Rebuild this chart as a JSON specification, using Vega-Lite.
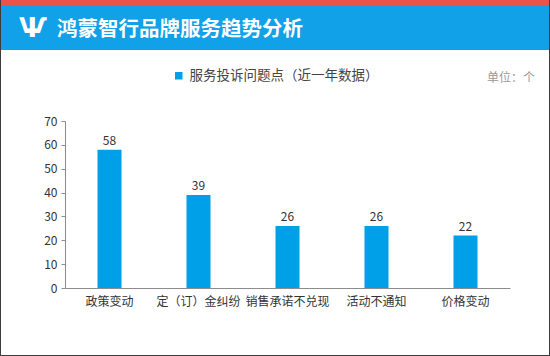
{
  "$schema": "https://vega.github.io/schema/vega-lite/v6.json",
  "background": "#3c3c3c",
  "padding": {"left": 1, "right": 1, "top": 0, "bottom": 1},
  "spacing": 0,
  "bounds": "flush",
  "config": {
    "view": {"stroke": null},
    "font": "Noto Sans CJK SC",
    "concat": {"spacing": 0}
  },
  "vconcat": [
    {
      "width": 548,
      "height": 5,
      "view": {"fill": "#e8534b", "stroke": null},
      "data": {"values": []},
      "mark": {"type": "text"},
      "encoding": {"text": {"field": "t"}}
    },
    {
      "width": 548,
      "height": 45,
      "view": {"fill": "#10a1e8", "stroke": null},
      "data": {"values": [{"t": "鸿蒙智行品牌服务趋势分析", "logo": "Ѱ"}]},
      "layer": [
        {
          "mark": {"type": "text", "align": "left", "baseline": "middle", "dx": -218, "dy": 2, "fontSize": 20.5, "fontWeight": "bold", "color": "#ffffff"},
          "encoding": {"text": {"field": "t"}}
        },
        {
          "mark": {"type": "text", "align": "center", "baseline": "middle", "dx": -242, "dy": 1, "fontSize": 26, "fontWeight": "bold", "color": "#ffffff", "font": "DejaVu Sans"},
          "encoding": {"text": {"field": "logo"}}
        }
      ]
    },
    {
      "width": 548,
      "height": 305,
      "view": {"fill": "#ffffff", "stroke": null},
      "data": {
        "values": [
          {"category": "政策变动", "count": 58, "series": "服务投诉问题点（近一年数据）"},
          {"category": "定（订）金纠纷", "count": 39, "series": "服务投诉问题点（近一年数据）"},
          {"category": "销售承诺不兑现", "count": 26, "series": "服务投诉问题点（近一年数据）"},
          {"category": "活动不通知", "count": 26, "series": "服务投诉问题点（近一年数据）"},
          {"category": "价格变动", "count": 22, "series": "服务投诉问题点（近一年数据）"}
        ]
      },
      "layer": [
        {
          "mark": {"type": "bar", "width": 24},
          "encoding": {
            "x": {
              "field": "category", "type": "nominal", "sort": null,
              "scale": {"range": [64, 509], "padding": 0},
              "axis": {"orient": "bottom", "offset": -67, "title": null, "ticks": false, "domainColor": "#8c8c8c", "domainWidth": 1, "labelAngle": 0, "labelPadding": 8, "labelFontSize": 12, "labelColor": "#333333", "labelOverlap": false, "labelLimit": 200}
            },
            "y": {
              "field": "count", "type": "quantitative",
              "scale": {"domain": [0, 70], "range": [238, 71], "nice": false, "zero": true},
              "axis": {"orient": "left", "offset": -64, "title": null, "grid": false, "values": [0, 10, 20, 30, 40, 50, 60, 70], "tickSize": 4, "tickColor": "#8c8c8c", "domainColor": "#8c8c8c", "labelPadding": 4, "labelFontSize": 12, "labelColor": "#333333"}
            },
            "color": {
              "field": "series", "type": "nominal",
              "scale": {"range": ["#00a0e9"]},
              "legend": {"orient": "none", "legendX": 171, "legendY": 69, "title": null, "padding": 0, "symbolType": "square", "symbolSize": 56, "symbolStrokeWidth": 0, "labelFontSize": 13.5, "labelColor": "#444444", "labelOffset": 4, "labelLimit": 300}
            }
          }
        },
        {
          "mark": {"type": "text", "baseline": "alphabetic", "dy": -5, "fontSize": 12, "color": "#333333"},
          "encoding": {
            "x": {"field": "category", "type": "nominal", "sort": null},
            "y": {"field": "count", "type": "quantitative"},
            "text": {"field": "count"}
          }
        },
        {
          "data": {"values": [{"u": "单位：个"}]},
          "mark": {"type": "text", "align": "right", "baseline": "middle", "dx": 260, "dy": -124.5, "fontSize": 12, "color": "#999999"},
          "encoding": {"text": {"field": "u"}}
        }
      ]
    }
  ]
}
